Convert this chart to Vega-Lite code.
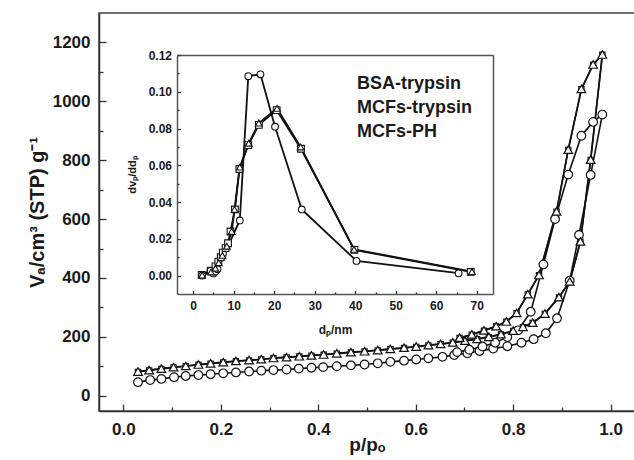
{
  "$schema": "https://vega.github.io/schema/vega-lite/v6.json",
  "width": 536,
  "height": 398,
  "autosize": "none",
  "padding": {"left": 99, "top": 13, "right": 0, "bottom": 49},
  "background": "white",
  "config": {
    "view": {"stroke": "#444", "strokeWidth": 1.5},
    "font": "Liberation Sans",
    "axis": {
      "labelFont": "Liberation Sans",
      "labelFontWeight": "bold",
      "labelColor": "#1a1a1a",
      "titleFont": "Liberation Sans",
      "titleFontWeight": "bold",
      "titleColor": "#1a1a1a",
      "domainColor": "#333",
      "domainWidth": 1.5,
      "tickColor": "#333",
      "tickWidth": 1.3,
      "grid": false,
      "labelFlush": false,
      "labelOverlap": false
    }
  },
  "datasets": {
    "iso": [
      {"s": "BSA-trypsin", "i": 1, "p": 0.030, "V": 81}, {"s": "BSA-trypsin", "i": 2, "p": 0.053, "V": 86}, {"s": "BSA-trypsin", "i": 3, "p": 0.078, "V": 91}, {"s": "BSA-trypsin", "i": 4, "p": 0.103, "V": 96}, {"s": "BSA-trypsin", "i": 5, "p": 0.128, "V": 100}, {"s": "BSA-trypsin", "i": 6, "p": 0.154, "V": 105}, {"s": "BSA-trypsin", "i": 7, "p": 0.179, "V": 109}, {"s": "BSA-trypsin", "i": 8, "p": 0.205, "V": 113}, {"s": "BSA-trypsin", "i": 9, "p": 0.231, "V": 117}, {"s": "BSA-trypsin", "i": 10, "p": 0.258, "V": 120}, {"s": "BSA-trypsin", "i": 11, "p": 0.283, "V": 123}, {"s": "BSA-trypsin", "i": 12, "p": 0.308, "V": 127}, {"s": "BSA-trypsin", "i": 13, "p": 0.335, "V": 130}, {"s": "BSA-trypsin", "i": 14, "p": 0.361, "V": 133}, {"s": "BSA-trypsin", "i": 15, "p": 0.386, "V": 136}, {"s": "BSA-trypsin", "i": 16, "p": 0.411, "V": 139}, {"s": "BSA-trypsin", "i": 17, "p": 0.438, "V": 143}, {"s": "BSA-trypsin", "i": 18, "p": 0.467, "V": 147}, {"s": "BSA-trypsin", "i": 19, "p": 0.495, "V": 150}, {"s": "BSA-trypsin", "i": 20, "p": 0.522, "V": 154}, {"s": "BSA-trypsin", "i": 21, "p": 0.548, "V": 158}, {"s": "BSA-trypsin", "i": 22, "p": 0.576, "V": 162}, {"s": "BSA-trypsin", "i": 23, "p": 0.601, "V": 166}, {"s": "BSA-trypsin", "i": 24, "p": 0.626, "V": 171}, {"s": "BSA-trypsin", "i": 25, "p": 0.651, "V": 175}, {"s": "BSA-trypsin", "i": 26, "p": 0.676, "V": 180}, {"s": "BSA-trypsin", "i": 27, "p": 0.701, "V": 186}, {"s": "BSA-trypsin", "i": 28, "p": 0.726, "V": 192}, {"s": "BSA-trypsin", "i": 29, "p": 0.750, "V": 199}, {"s": "BSA-trypsin", "i": 30, "p": 0.775, "V": 208}, {"s": "BSA-trypsin", "i": 31, "p": 0.800, "V": 220}, {"s": "BSA-trypsin", "i": 32, "p": 0.820, "V": 233}, {"s": "BSA-trypsin", "i": 33, "p": 0.840, "V": 247}, {"s": "BSA-trypsin", "i": 34, "p": 0.865, "V": 278}, {"s": "BSA-trypsin", "i": 35, "p": 0.894, "V": 334}, {"s": "BSA-trypsin", "i": 36, "p": 0.916, "V": 387}, {"s": "BSA-trypsin", "i": 37, "p": 0.938, "V": 523}, {"s": "BSA-trypsin", "i": 38, "p": 0.959, "V": 801}, {"s": "BSA-trypsin", "i": 39, "p": 0.983, "V": 1158}, {"s": "BSA-trypsin", "i": 40, "p": 0.964, "V": 1124}, {"s": "BSA-trypsin", "i": 41, "p": 0.940, "V": 1041}, {"s": "BSA-trypsin", "i": 42, "p": 0.913, "V": 835}, {"s": "BSA-trypsin", "i": 43, "p": 0.889, "V": 625}, {"s": "BSA-trypsin", "i": 44, "p": 0.853, "V": 409}, {"s": "BSA-trypsin", "i": 45, "p": 0.830, "V": 344}, {"s": "BSA-trypsin", "i": 46, "p": 0.807, "V": 280}, {"s": "BSA-trypsin", "i": 47, "p": 0.786, "V": 251}, {"s": "BSA-trypsin", "i": 48, "p": 0.765, "V": 235}, {"s": "BSA-trypsin", "i": 49, "p": 0.740, "V": 221}, {"s": "BSA-trypsin", "i": 50, "p": 0.715, "V": 207}, {"s": "BSA-trypsin", "i": 51, "p": 0.690, "V": 196},
      {"s": "MCFs-trypsin", "i": 1, "p": 0.030, "V": 46}, {"s": "MCFs-trypsin", "i": 2, "p": 0.055, "V": 53}, {"s": "MCFs-trypsin", "i": 3, "p": 0.078, "V": 57}, {"s": "MCFs-trypsin", "i": 4, "p": 0.104, "V": 63}, {"s": "MCFs-trypsin", "i": 5, "p": 0.128, "V": 67}, {"s": "MCFs-trypsin", "i": 6, "p": 0.154, "V": 70}, {"s": "MCFs-trypsin", "i": 7, "p": 0.179, "V": 73}, {"s": "MCFs-trypsin", "i": 8, "p": 0.205, "V": 76}, {"s": "MCFs-trypsin", "i": 9, "p": 0.231, "V": 79}, {"s": "MCFs-trypsin", "i": 10, "p": 0.258, "V": 82}, {"s": "MCFs-trypsin", "i": 11, "p": 0.283, "V": 85}, {"s": "MCFs-trypsin", "i": 12, "p": 0.308, "V": 87}, {"s": "MCFs-trypsin", "i": 13, "p": 0.335, "V": 89}, {"s": "MCFs-trypsin", "i": 14, "p": 0.360, "V": 92}, {"s": "MCFs-trypsin", "i": 15, "p": 0.386, "V": 95}, {"s": "MCFs-trypsin", "i": 16, "p": 0.410, "V": 97}, {"s": "MCFs-trypsin", "i": 17, "p": 0.438, "V": 100}, {"s": "MCFs-trypsin", "i": 18, "p": 0.467, "V": 103}, {"s": "MCFs-trypsin", "i": 19, "p": 0.495, "V": 106}, {"s": "MCFs-trypsin", "i": 20, "p": 0.522, "V": 110}, {"s": "MCFs-trypsin", "i": 21, "p": 0.548, "V": 115}, {"s": "MCFs-trypsin", "i": 22, "p": 0.576, "V": 119}, {"s": "MCFs-trypsin", "i": 23, "p": 0.601, "V": 123}, {"s": "MCFs-trypsin", "i": 24, "p": 0.626, "V": 127}, {"s": "MCFs-trypsin", "i": 25, "p": 0.655, "V": 132}, {"s": "MCFs-trypsin", "i": 26, "p": 0.679, "V": 138}, {"s": "MCFs-trypsin", "i": 27, "p": 0.706, "V": 144}, {"s": "MCFs-trypsin", "i": 28, "p": 0.731, "V": 152}, {"s": "MCFs-trypsin", "i": 29, "p": 0.759, "V": 160}, {"s": "MCFs-trypsin", "i": 30, "p": 0.788, "V": 168}, {"s": "MCFs-trypsin", "i": 31, "p": 0.817, "V": 180}, {"s": "MCFs-trypsin", "i": 32, "p": 0.842, "V": 192}, {"s": "MCFs-trypsin", "i": 33, "p": 0.867, "V": 212}, {"s": "MCFs-trypsin", "i": 34, "p": 0.890, "V": 263}, {"s": "MCFs-trypsin", "i": 35, "p": 0.916, "V": 391}, {"s": "MCFs-trypsin", "i": 36, "p": 0.935, "V": 546}, {"s": "MCFs-trypsin", "i": 37, "p": 0.959, "V": 750}, {"s": "MCFs-trypsin", "i": 38, "p": 0.983, "V": 955}, {"s": "MCFs-trypsin", "i": 39, "p": 0.964, "V": 930}, {"s": "MCFs-trypsin", "i": 40, "p": 0.940, "V": 883}, {"s": "MCFs-trypsin", "i": 41, "p": 0.913, "V": 751}, {"s": "MCFs-trypsin", "i": 42, "p": 0.886, "V": 600}, {"s": "MCFs-trypsin", "i": 43, "p": 0.862, "V": 446}, {"s": "MCFs-trypsin", "i": 44, "p": 0.836, "V": 285}, {"s": "MCFs-trypsin", "i": 45, "p": 0.810, "V": 222}, {"s": "MCFs-trypsin", "i": 46, "p": 0.788, "V": 199}, {"s": "MCFs-trypsin", "i": 47, "p": 0.763, "V": 180}, {"s": "MCFs-trypsin", "i": 48, "p": 0.737, "V": 167}, {"s": "MCFs-trypsin", "i": 49, "p": 0.710, "V": 156}, {"s": "MCFs-trypsin", "i": 50, "p": 0.685, "V": 148},
      {"s": "MCFs-PH", "i": 1, "p": 0.030, "V": 82}, {"s": "MCFs-PH", "i": 2, "p": 0.053, "V": 87}, {"s": "MCFs-PH", "i": 3, "p": 0.078, "V": 92}, {"s": "MCFs-PH", "i": 4, "p": 0.103, "V": 97}, {"s": "MCFs-PH", "i": 5, "p": 0.128, "V": 101}, {"s": "MCFs-PH", "i": 6, "p": 0.154, "V": 106}, {"s": "MCFs-PH", "i": 7, "p": 0.179, "V": 110}, {"s": "MCFs-PH", "i": 8, "p": 0.205, "V": 114}, {"s": "MCFs-PH", "i": 9, "p": 0.231, "V": 118}, {"s": "MCFs-PH", "i": 10, "p": 0.258, "V": 121}, {"s": "MCFs-PH", "i": 11, "p": 0.283, "V": 124}, {"s": "MCFs-PH", "i": 12, "p": 0.308, "V": 128}, {"s": "MCFs-PH", "i": 13, "p": 0.335, "V": 131}, {"s": "MCFs-PH", "i": 14, "p": 0.361, "V": 134}, {"s": "MCFs-PH", "i": 15, "p": 0.386, "V": 137}, {"s": "MCFs-PH", "i": 16, "p": 0.411, "V": 140}, {"s": "MCFs-PH", "i": 17, "p": 0.438, "V": 144}, {"s": "MCFs-PH", "i": 18, "p": 0.467, "V": 148}, {"s": "MCFs-PH", "i": 19, "p": 0.495, "V": 151}, {"s": "MCFs-PH", "i": 20, "p": 0.522, "V": 155}, {"s": "MCFs-PH", "i": 21, "p": 0.548, "V": 159}, {"s": "MCFs-PH", "i": 22, "p": 0.576, "V": 163}, {"s": "MCFs-PH", "i": 23, "p": 0.601, "V": 167}, {"s": "MCFs-PH", "i": 24, "p": 0.626, "V": 172}, {"s": "MCFs-PH", "i": 25, "p": 0.651, "V": 176}, {"s": "MCFs-PH", "i": 26, "p": 0.676, "V": 181}, {"s": "MCFs-PH", "i": 27, "p": 0.701, "V": 187}, {"s": "MCFs-PH", "i": 28, "p": 0.726, "V": 193}, {"s": "MCFs-PH", "i": 29, "p": 0.750, "V": 200}, {"s": "MCFs-PH", "i": 30, "p": 0.775, "V": 209}, {"s": "MCFs-PH", "i": 31, "p": 0.800, "V": 221}, {"s": "MCFs-PH", "i": 32, "p": 0.820, "V": 234}, {"s": "MCFs-PH", "i": 33, "p": 0.840, "V": 248}, {"s": "MCFs-PH", "i": 34, "p": 0.865, "V": 279}, {"s": "MCFs-PH", "i": 35, "p": 0.894, "V": 335}, {"s": "MCFs-PH", "i": 36, "p": 0.916, "V": 388}, {"s": "MCFs-PH", "i": 37, "p": 0.938, "V": 524}, {"s": "MCFs-PH", "i": 38, "p": 0.959, "V": 802}, {"s": "MCFs-PH", "i": 39, "p": 0.983, "V": 1159}, {"s": "MCFs-PH", "i": 40, "p": 0.964, "V": 1125}, {"s": "MCFs-PH", "i": 41, "p": 0.940, "V": 1042}, {"s": "MCFs-PH", "i": 42, "p": 0.913, "V": 836}, {"s": "MCFs-PH", "i": 43, "p": 0.889, "V": 626}, {"s": "MCFs-PH", "i": 44, "p": 0.853, "V": 410}, {"s": "MCFs-PH", "i": 45, "p": 0.830, "V": 345}, {"s": "MCFs-PH", "i": 46, "p": 0.807, "V": 281}, {"s": "MCFs-PH", "i": 47, "p": 0.786, "V": 252}, {"s": "MCFs-PH", "i": 48, "p": 0.765, "V": 236}, {"s": "MCFs-PH", "i": 49, "p": 0.740, "V": 222}, {"s": "MCFs-PH", "i": 50, "p": 0.715, "V": 208}, {"s": "MCFs-PH", "i": 51, "p": 0.690, "V": 197}
    ],
    "psd": [
      {"s": "BSA-trypsin", "i": 1, "d": 2.1, "v": 0.0004}, {"s": "BSA-trypsin", "i": 2, "d": 4.3, "v": 0.0027}, {"s": "BSA-trypsin", "i": 3, "d": 5.5, "v": 0.005}, {"s": "BSA-trypsin", "i": 4, "d": 6.2, "v": 0.0076}, {"s": "BSA-trypsin", "i": 5, "d": 6.8, "v": 0.010}, {"s": "BSA-trypsin", "i": 6, "d": 7.3, "v": 0.0125}, {"s": "BSA-trypsin", "i": 7, "d": 8.0, "v": 0.015}, {"s": "BSA-trypsin", "i": 8, "d": 8.6, "v": 0.0176}, {"s": "BSA-trypsin", "i": 9, "d": 9.2, "v": 0.024}, {"s": "BSA-trypsin", "i": 10, "d": 10.3, "v": 0.036}, {"s": "BSA-trypsin", "i": 11, "d": 11.4, "v": 0.058}, {"s": "BSA-trypsin", "i": 12, "d": 13.6, "v": 0.071}, {"s": "BSA-trypsin", "i": 13, "d": 16.2, "v": 0.082}, {"s": "BSA-trypsin", "i": 14, "d": 20.6, "v": 0.090}, {"s": "BSA-trypsin", "i": 15, "d": 26.6, "v": 0.069}, {"s": "BSA-trypsin", "i": 16, "d": 39.8, "v": 0.014}, {"s": "BSA-trypsin", "i": 17, "d": 68.5, "v": 0.002},
      {"s": "MCFs-trypsin", "i": 1, "d": 2.2, "v": 0.0}, {"s": "MCFs-trypsin", "i": 2, "d": 4.3, "v": 0.0026}, {"s": "MCFs-trypsin", "i": 3, "d": 5.0, "v": 0.0012}, {"s": "MCFs-trypsin", "i": 4, "d": 5.5, "v": 0.0022}, {"s": "MCFs-trypsin", "i": 5, "d": 6.0, "v": 0.0035}, {"s": "MCFs-trypsin", "i": 6, "d": 11.5, "v": 0.030}, {"s": "MCFs-trypsin", "i": 7, "d": 13.6, "v": 0.1085}, {"s": "MCFs-trypsin", "i": 8, "d": 16.6, "v": 0.1095}, {"s": "MCFs-trypsin", "i": 9, "d": 20.2, "v": 0.081}, {"s": "MCFs-trypsin", "i": 10, "d": 26.8, "v": 0.036}, {"s": "MCFs-trypsin", "i": 11, "d": 40.3, "v": 0.008}, {"s": "MCFs-trypsin", "i": 12, "d": 65.5, "v": 0.0013},
      {"s": "MCFs-PH", "i": 1, "d": 2.2, "v": 0.0003}, {"s": "MCFs-PH", "i": 2, "d": 4.4, "v": 0.002}, {"s": "MCFs-PH", "i": 3, "d": 5.5, "v": 0.004}, {"s": "MCFs-PH", "i": 4, "d": 6.3, "v": 0.007}, {"s": "MCFs-PH", "i": 5, "d": 7.2, "v": 0.011}, {"s": "MCFs-PH", "i": 6, "d": 8.3, "v": 0.016}, {"s": "MCFs-PH", "i": 7, "d": 9.5, "v": 0.024}, {"s": "MCFs-PH", "i": 8, "d": 10.2, "v": 0.036}, {"s": "MCFs-PH", "i": 9, "d": 11.5, "v": 0.059}, {"s": "MCFs-PH", "i": 10, "d": 13.7, "v": 0.072}, {"s": "MCFs-PH", "i": 11, "d": 16.2, "v": 0.083}, {"s": "MCFs-PH", "i": 12, "d": 20.7, "v": 0.091}, {"s": "MCFs-PH", "i": 13, "d": 26.5, "v": 0.070}, {"s": "MCFs-PH", "i": 14, "d": 39.7, "v": 0.0143}, {"s": "MCFs-PH", "i": 15, "d": 68.8, "v": 0.0022}
    ]
  },
  "layer": [
    {"data": {"name": "iso"},
      "mark": {"type": "line", "stroke": "#111", "strokeWidth": 1.6},
      "encoding": {
        "x": {"field": "p", "type": "quantitative", "scale": {"domain": [-0.05, 1.05], "nice": false, "zero": false},
          "axis": {"orient": "top", "offset": -398, "values": [0, 0.2, 0.4, 0.6, 0.8, 1.0], "format": ".1f", "tickSize": 7, "labelPadding": -17, "labelBaseline": "top", "labelFontSize": 17, "title": "p/pₒ", "titleFontSize": 19, "titleY": 39, "titleBaseline": "alphabetic", "titleAnchor": "middle"}},
        "y": {"field": "V", "type": "quantitative", "scale": {"domain": [-52, 1300], "nice": false, "zero": false},
          "axis": {"orient": "right", "offset": -536, "values": [0, 200, 400, 600, 800, 1000, 1200], "format": "d", "tickSize": 7, "labelPadding": -16, "labelAlign": "right", "labelBaseline": "middle", "labelFontSize": 17, "title": "Vₐ/cm³ (STP) g⁻¹", "titleFontSize": 20, "titleAngle": 270, "titleX": -56, "titleBaseline": "alphabetic", "titleAnchor": "middle"}},
        "detail": {"field": "s"},
        "order": {"field": "i", "type": "quantitative"}}},
    {"data": {"name": "iso"},
      "transform": [{"filter": "datum.s == 'BSA-trypsin'"}],
      "mark": {"type": "point", "fill": "white", "stroke": "#111", "strokeWidth": 1.1, "opacity": 1, "fillOpacity": 1, "size": 28},
      "encoding": {
        "x": {"field": "p", "type": "quantitative", "scale": {"domain": [-0.05, 1.05], "nice": false, "zero": false},
          "axis": {"orient": "top", "offset": -398, "values": [0.1, 0.3, 0.5, 0.7, 0.9], "tickSize": 4, "domain": false, "labels": false, "title": null}},
        "y": {"field": "V", "type": "quantitative", "scale": {"domain": [-52, 1300], "nice": false, "zero": false},
          "axis": {"orient": "right", "offset": -536, "values": [100, 300, 500, 700, 900, 1100], "tickSize": 4, "domain": false, "labels": false, "title": null}},
        "shape": {"field": "s", "type": "nominal", "scale": {"domain": ["BSA-trypsin", "MCFs-trypsin", "MCFs-PH"], "range": ["square", "circle", "triangle-up"]},
          "legend": {"orient": "none", "legendX": 222, "legendY": 62, "title": null, "padding": 0, "symbolSize": 85, "symbolStrokeWidth": 1.4, "symbolStrokeColor": "#111", "symbolFillColor": "white", "labelFont": "Liberation Sans", "labelFontWeight": "bold", "labelFontSize": 18, "labelColor": "#1a1a1a", "labelOffset": 18, "rowPadding": 6}}}},
    {"data": {"name": "iso"},
      "transform": [{"filter": "datum.s != 'BSA-trypsin'"}],
      "mark": {"type": "point", "fill": "white", "stroke": "#111", "strokeWidth": 1.2, "opacity": 1, "fillOpacity": 1, "size": 75},
      "encoding": {
        "x": {"field": "p", "type": "quantitative", "scale": {"domain": [-0.05, 1.05], "nice": false, "zero": false}, "axis": null},
        "y": {"field": "V", "type": "quantitative", "scale": {"domain": [-52, 1300], "nice": false, "zero": false}, "axis": null},
        "shape": {"field": "s", "type": "nominal", "scale": {"domain": ["BSA-trypsin", "MCFs-trypsin", "MCFs-PH"], "range": ["square", "circle", "triangle-up"]},
          "legend": {"orient": "none", "legendX": 222, "legendY": 62, "title": null, "padding": 0, "symbolSize": 85, "symbolStrokeWidth": 1.4, "symbolStrokeColor": "#111", "symbolFillColor": "white", "labelFont": "Liberation Sans", "labelFontWeight": "bold", "labelFontSize": 18, "labelColor": "#1a1a1a", "labelOffset": 18, "rowPadding": 6}}}},
    {"data": {"name": "psd"},
      "mark": {"type": "line", "stroke": "#111", "strokeWidth": 1.8},
      "encoding": {
        "x": {"field": "d", "type": "quantitative", "scale": {"domain": [-4, 74], "range": [78, 394], "nice": false, "zero": false},
          "axis": {"orient": "top", "offset": -281, "values": [0, 10, 20, 30, 40, 50, 60, 70], "tickSize": 3.5, "domainColor": "#555", "labelPadding": -10, "labelBaseline": "top", "labelFontSize": 12, "title": "dₚ/nm", "titleFontSize": 12, "titleY": 35, "titleBaseline": "middle", "titleAnchor": "middle"}},
        "y": {"field": "v", "type": "quantitative", "scale": {"domain": [-0.01, 0.12], "range": [281, 42], "nice": false, "zero": false},
          "axis": {"orient": "right", "offset": -458, "values": [0, 0.02, 0.04, 0.06, 0.08, 0.1, 0.12], "format": ".2f", "tickSize": 3.5, "domainColor": "#555", "labelPadding": -9, "labelAlign": "right", "labelBaseline": "middle", "labelFontSize": 12, "title": "dvₚ/ddₚ", "titleFontSize": 11, "titleAngle": 270, "titleX": -42, "titleBaseline": "alphabetic", "titleAnchor": "middle"}},
        "detail": {"field": "s"},
        "order": {"field": "i", "type": "quantitative"}}},
    {"data": {"name": "psd"},
      "mark": {"type": "point", "fill": "white", "stroke": "#111", "strokeWidth": 1.1, "opacity": 1, "fillOpacity": 1, "size": 45},
      "encoding": {
        "x": {"field": "d", "type": "quantitative", "scale": {"domain": [-4, 74], "range": [78, 394], "nice": false, "zero": false},
          "axis": {"orient": "top", "offset": -42, "domainColor": "#555", "ticks": false, "labels": false, "title": null}},
        "y": {"field": "v", "type": "quantitative", "scale": {"domain": [-0.01, 0.12], "range": [281, 42], "nice": false, "zero": false},
          "axis": {"orient": "right", "offset": -142, "domainColor": "#555", "ticks": false, "labels": false, "title": null}},
        "shape": {"field": "s", "type": "nominal", "scale": {"domain": ["BSA-trypsin", "MCFs-trypsin", "MCFs-PH"], "range": ["square", "circle", "triangle-up"]},
          "legend": {"orient": "none", "legendX": 222, "legendY": 62, "title": null, "padding": 0, "symbolSize": 85, "symbolStrokeWidth": 1.4, "symbolStrokeColor": "#111", "symbolFillColor": "white", "labelFont": "Liberation Sans", "labelFontWeight": "bold", "labelFontSize": 18, "labelColor": "#1a1a1a", "labelOffset": 18, "rowPadding": 6}}}},
    {"data": {"name": "psd"},
      "mark": {"type": "point", "opacity": 0},
      "encoding": {
        "x": {"field": "d", "type": "quantitative", "scale": {"domain": [-4, 74], "range": [78, 394], "nice": false, "zero": false},
          "axis": {"orient": "top", "offset": -281, "values": [5, 15, 25, 35, 45, 55, 65], "tickSize": 2, "domain": false, "labels": false, "title": null}},
        "y": {"field": "v", "type": "quantitative", "scale": {"domain": [-0.01, 0.12], "range": [281, 42], "nice": false, "zero": false},
          "axis": {"orient": "right", "offset": -458, "values": [0.01, 0.03, 0.05, 0.07, 0.09, 0.11], "tickSize": 2, "domain": false, "labels": false, "title": null}}}}
  ],
  "resolve": {"scale": {"x": "independent", "y": "independent"}}
}
